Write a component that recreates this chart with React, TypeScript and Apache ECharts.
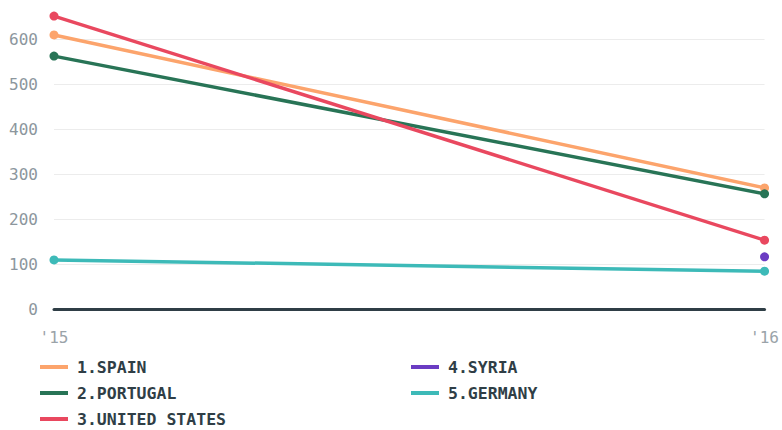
import React, { useEffect, useRef } from "react";
import * as echarts from "echarts";

const years = ["'15", "'16"];
const seriesNames = ["1.SPAIN", "2.PORTUGAL", "3.UNITED STATES", "4.SYRIA", "5.GERMANY"];
const spain = [609, 269];
const portugal = [562, 256];
const unitedStates = [651, 153];
const syria: (number | null)[] = [null, 116];
const germany = [109, 84];
const colors = ["#fca46c", "#287456", "#e9485f", "#6b3cc3", "#3dbab8"];
const yTicks = { min: 0, max: 600, interval: 100 };

export default function App() {
  const ref = useRef<HTMLDivElement>(null);
  useEffect(() => {
    if (!ref.current) return;
    const chart = echarts.init(ref.current, undefined, { renderer: "svg" });
    const values = [spain, portugal, unitedStates, syria, germany];
    const font = "DejaVu Sans Mono";
    const legendCommon = {
      orient: "vertical" as const,
      top: 358,
      height: 100,
      padding: 0,
      icon: "rect",
      itemWidth: 28,
      itemHeight: 4,
      itemGap: 8,
      textStyle: {
        fontFamily: font,
        fontWeight: "bold" as const,
        fontSize: 16.5,
        color: "#2f3e46",
        lineHeight: 18,
        padding: [0, 0, 0, 4],
      },
      selectedMode: false,
    };
    chart.setOption({
      animation: false,
      backgroundColor: "#ffffff",
      grid: { left: 54, right: 15, top: 39, bottom: 121 },
      legend: [
        { ...legendCommon, left: 40, data: seriesNames.slice(0, 3) },
        { ...legendCommon, left: 411, data: seriesNames.slice(3) },
      ],
      xAxis: {
        type: "category",
        data: years,
        boundaryGap: false,
        axisLine: { show: true, lineStyle: { color: "#2f3e46", width: 3 } },
        axisTick: { show: false },
        axisLabel: { color: "#9aa3a9", fontFamily: font, fontSize: 16, margin: 20 },
        splitLine: { show: false },
      },
      yAxis: {
        type: "value",
        min: yTicks.min,
        max: yTicks.max,
        interval: yTicks.interval,
        axisLine: { show: false },
        axisTick: { show: false },
        axisLabel: { color: "#8c969d", fontFamily: font, fontSize: 16, margin: 16 },
        splitLine: { show: true, lineStyle: { color: "#ececec", width: 1 } },
      },
      series: seriesNames.map((name, i) => ({
        name,
        type: "line",
        data: values[i],
        clip: false,
        color: colors[i],
        lineStyle: { width: 3.5, color: colors[i] },
        symbol: "circle",
        symbolSize: 9,
        showSymbol: true,
        itemStyle: { color: colors[i], borderWidth: 0 },
        z: 2 + i,
      })),
    });
    return () => chart.dispose();
  }, []);
  return <div ref={ref} style={{ width: 782, height: 430, position: "absolute", left: 0, top: 0 }} />;
}
